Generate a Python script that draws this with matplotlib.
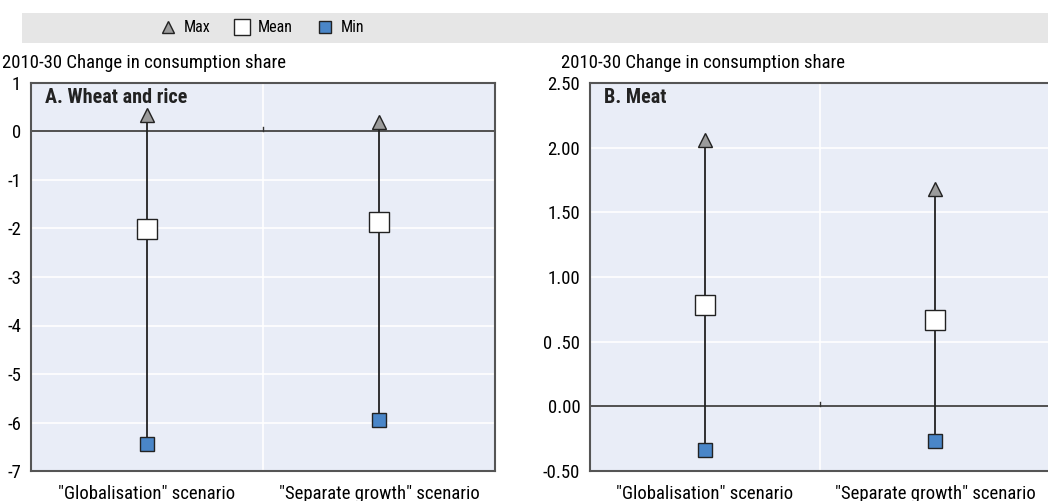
import matplotlib
matplotlib.use("Agg")
import matplotlib.pyplot as plt
from matplotlib import font_manager
from matplotlib.lines import Line2D
from matplotlib.patches import Rectangle

names = {f.name for f in font_manager.fontManager.ttflist}
fam = [n for n in ["Liberation Sans Narrow", "Roboto Condensed", "Liberation Sans", "DejaVu Sans"] if n in names]
plt.rcParams['font.family'] = fam

categories = ['"Globalisation" scenario', '"Separate growth" scenario']
wheat_max = [0.35, 0.2]
wheat_mean = [-2.02, -1.86]
wheat_min = [-6.45, -5.94]
meat_max = [2.06, 1.68]
meat_mean = [0.78, 0.67]
meat_min = [-0.34, -0.27]

wheat_ticks = [1, 0, -1, -2, -3, -4, -5, -6, -7]
wheat_ticklabels = ["1", "0", "-1", "-2", "-3", "-4", "-5", "-6", "-7"]
meat_ticks = [2.5, 2.0, 1.5, 1.0, 0.5, 0.0, -0.5]
meat_ticklabels = ["2.50", "2.00", "1.50", "1.00", "0 .50", "0.00", "-0.50"]

ylabel = "2010-30 Change in consumption share"
bg = "#E9EDF7"
spine_c = "#555555"
tri_c = "#9B9B9B"
min_c = "#4A86C8"
FS = 13.5

fig = plt.figure(figsize=(10.48, 5.01), dpi=100)

# legend band
fig.patches.append(Rectangle((22/1048, 1-43/501), 1.0, 30/501, transform=fig.transFigure,
                             facecolor="#E6E6E6", edgecolor="none", zorder=0))
handles = [
    Line2D([], [], marker="^", linestyle="none", markersize=9, markerfacecolor=tri_c, markeredgecolor="#222222", markeredgewidth=1),
    Line2D([], [], marker="s", linestyle="none", markersize=11, markerfacecolor="white", markeredgecolor="#222222", markeredgewidth=1),
    Line2D([], [], marker="s", linestyle="none", markersize=8, markerfacecolor=min_c, markeredgecolor="#222222", markeredgewidth=1),
]
fig.legend(handles, ["Max", "Mean", "Min"], loc="center", bbox_to_anchor=(0.250, 1-28/501),
           ncol=3, frameon=False, fontsize=11.5, columnspacing=1.5, handletextpad=0.5, handlelength=1.0)

def panel(rect, title, vmax, vmean, vmin, ticks, ticklabels, ylim):
    ax = fig.add_axes(rect)
    ax.set_facecolor(bg)
    x = [0.5, 1.5]
    ax.set_xlim(0, 2)
    ax.set_ylim(*ylim)
    ax.set_yticks(ticks)
    ax.set_yticklabels(ticklabels, fontsize=FS)
    ax.set_xticks(x)
    ax.set_xticklabels(categories, fontsize=FS)
    ax.tick_params(axis="both", length=0, pad=7)
    ax.tick_params(axis="x", pad=10)
    for t in ticks:
        ax.axhline(t, color="white", lw=1.2, zorder=1)
    ax.axvline(1, color="white", lw=1.2, zorder=1)
    ax.axhline(0, color="#333333", lw=1.2, zorder=2)
    span = ylim[1] - ylim[0]
    ax.plot([1, 1], [0, span * 0.012], color="#333333", lw=1, zorder=2)
    for s in ax.spines.values():
        s.set_color(spine_c)
        s.set_linewidth(1.5)
    ax.vlines(x, vmin, vmax, color="#222222", lw=1.3, zorder=3)
    ax.plot(x, vmax, linestyle="none", marker="^", markersize=10, markerfacecolor=tri_c,
            markeredgecolor="#222222", markeredgewidth=1, zorder=4)
    ax.plot(x, vmean, linestyle="none", marker="s", markersize=14, markerfacecolor="white",
            markeredgecolor="#222222", markeredgewidth=1, zorder=4)
    ax.plot(x, vmin, linestyle="none", marker="s", markersize=9.5, markerfacecolor=min_c,
            markeredgecolor="#222222", markeredgewidth=1, zorder=4)
    ax.text(0.03, 0.988, title, transform=ax.transAxes, ha="left", va="top",
            fontsize=14.5, fontweight="bold", color="#222222", zorder=5)
    fig.text(rect[0] - 29/1048, rect[1] + rect[3] + 11/501, ylabel, ha="left", va="bottom", fontsize=FS)
    return ax

bottom = 30/501
height = 388/501
panel([31/1048, bottom, 464/1048, height], "A. Wheat and rice", wheat_max, wheat_mean, wheat_min,
      wheat_ticks, wheat_ticklabels, (-7, 1))
panel([590/1048, bottom, 460/1048, height], "B. Meat", meat_max, meat_mean, meat_min,
      meat_ticks, meat_ticklabels, (-0.5, 2.5))

fig.savefig("out.png", dpi=100)
